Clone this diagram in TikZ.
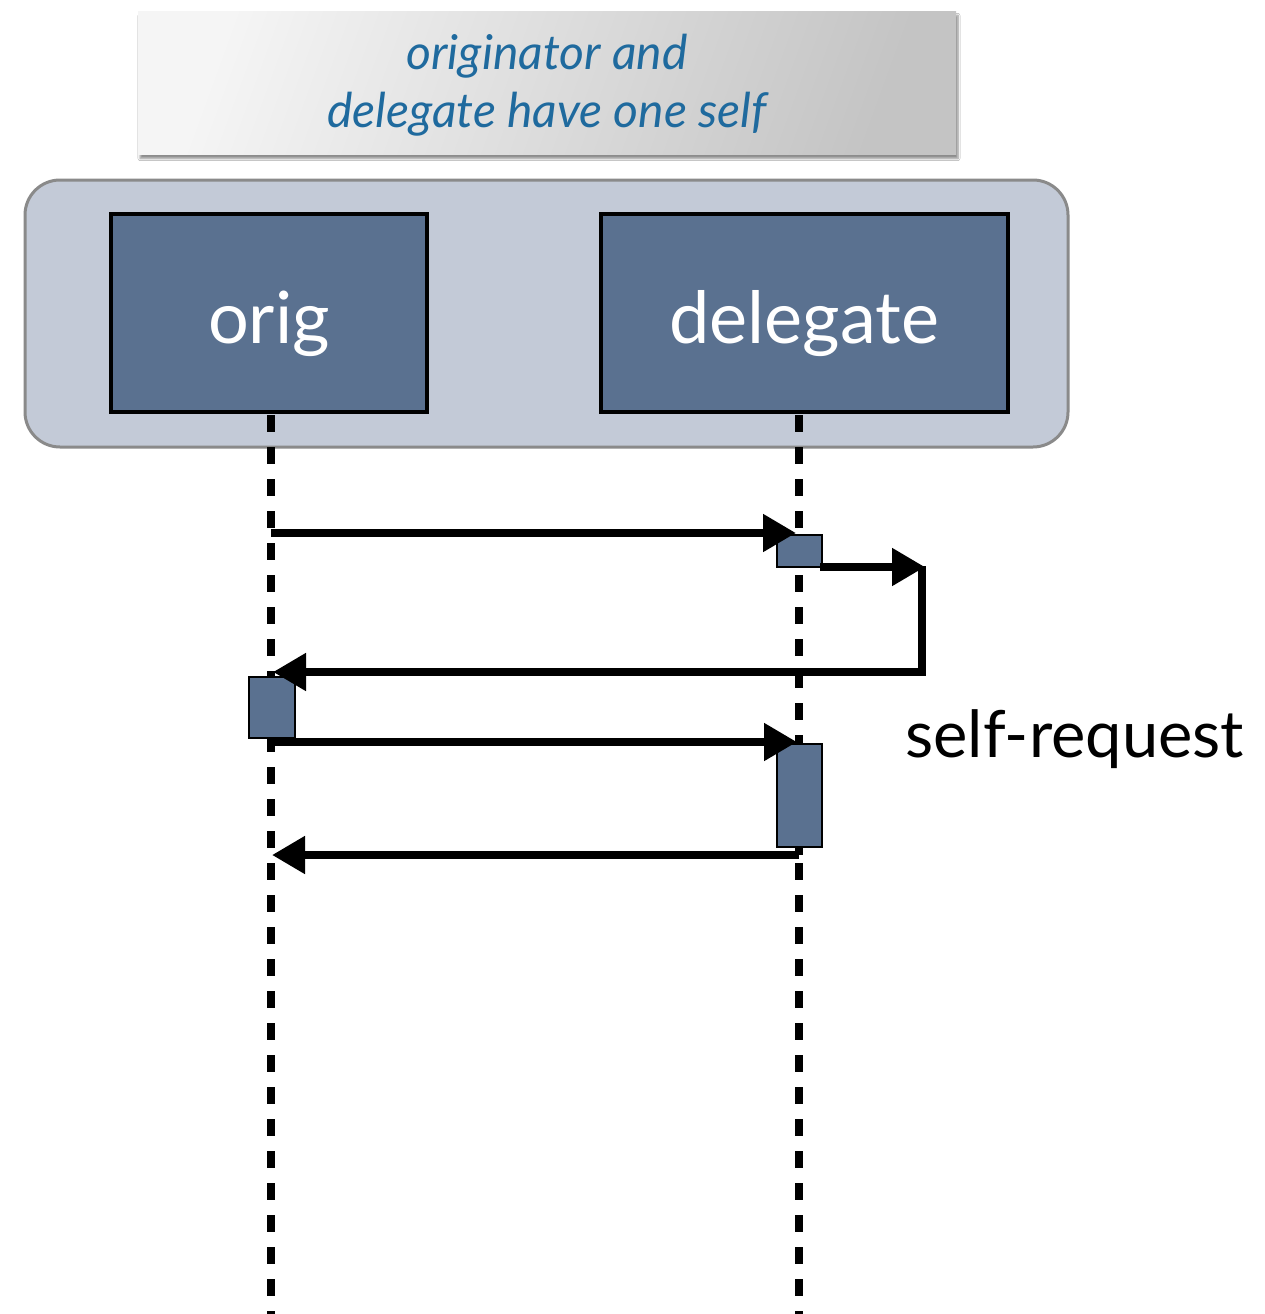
\documentclass[tikz,border=0pt]{standalone}
\usepackage{fontspec}
\setmainfont{Lato}
\usetikzlibrary{arrows.meta,shadows,shadows.blur}
\definecolor{boxblue}{HTML}{5A7190}
\definecolor{panelgray}{HTML}{C3CAD7}
\definecolor{paneledge}{HTML}{8A8A8A}
\definecolor{titleblue}{HTML}{1F6A9E}

\begin{document}
\begin{tikzpicture}[x=1pt,y=-1pt,
  msg/.style={line width=8pt, -{Triangle[length=33pt,width=36pt]}},
  lifeline/.style={line width=7.5pt, dash pattern=on 17pt off 15pt},
  objbox/.style={draw=black, line width=4pt, fill=boxblue, text=white,
    minimum height=198pt, inner sep=0pt, text height=60pt, text depth=0pt,
    font=\fontsize{72}{80}\selectfont},
  actbox/.style={draw=black, line width=2pt, fill=boxblue, minimum width=45pt, inner sep=0pt},
  notebox/.style={minimum width=818pt, minimum height=143pt, inner sep=0pt,
    left color=white!96!black, right color=black!23, shading angle=70,
    blur shadow={shadow xshift=2pt, shadow yshift=-4pt, shadow blur steps=6, shadow opacity=45},
    text=titleblue, align=center, font=\itshape\fontsize{48}{58}\selectfont},
  groupbox/.style={draw=paneledge, line width=3pt, fill=panelgray, rounded corners=35pt,
    minimum width=1043pt, minimum height=267pt, inner sep=0pt}
]
\useasboundingbox (0,0) rectangle (1264,1314);
\fill[white] (0,0) rectangle (1264,1314);

% heading note
\node[notebox] (note) at (547,83) {\raisebox{0pt}[40pt][0pt]{}originator and\\delegate have one self};

% shared-self group with the two objects
\node[groupbox] (group) at (546.5,313.5) {};
\node[objbox, minimum width=316pt] (orig) at (269,313) {orig};
\node[objbox, minimum width=407pt] (deleg) at (804.5,313) {delegate};

% lifelines
\coordinate (oTop) at (271,415);
\coordinate (oBot) at (271,1314);
\coordinate (dTop) at (799,415);
\coordinate (dBot) at (799,1314);
\draw[lifeline] (oTop) -- (oBot);
\draw[lifeline] (dTop) -- (dBot);

% message points on the lifelines
\coordinate (o1) at (271,533);
\coordinate (d1) at (796,533);
\coordinate (s1) at (820,567);
\coordinate (s2) at (925,567);
\coordinate (s3) at (922,672);
\coordinate (o2) at (273,672);
\coordinate (o3) at (268,742);
\coordinate (d3) at (797,742);
\coordinate (d4) at (799,855);
\coordinate (o4) at (272,855);

% activations
\node[actbox, minimum height=32pt] (act1) at (799.5,551) {};
\node[actbox, minimum width=46pt, minimum height=61pt] (act2) at (272,707.5) {};
\node[actbox, minimum height=103pt] (act3) at (799.5,795.5) {};

% messages
\draw[msg] (o1) -- (d1);
\draw[msg] (s1) -- (s2);
\draw[line width=7.5pt] (922,566) -- (922,676);
\draw[msg] (s3) -- (o2);
\draw[msg] (o3) -- (d3);
\draw[msg] (d4) -- (o4);
\draw[line width=7.5pt] (799,846) -- (d4);

\node[anchor=base west, inner sep=0pt, font=\fontsize{65}{72}\selectfont] (selfreq) at (905,757) {self-request};
\end{tikzpicture}
\end{document}
